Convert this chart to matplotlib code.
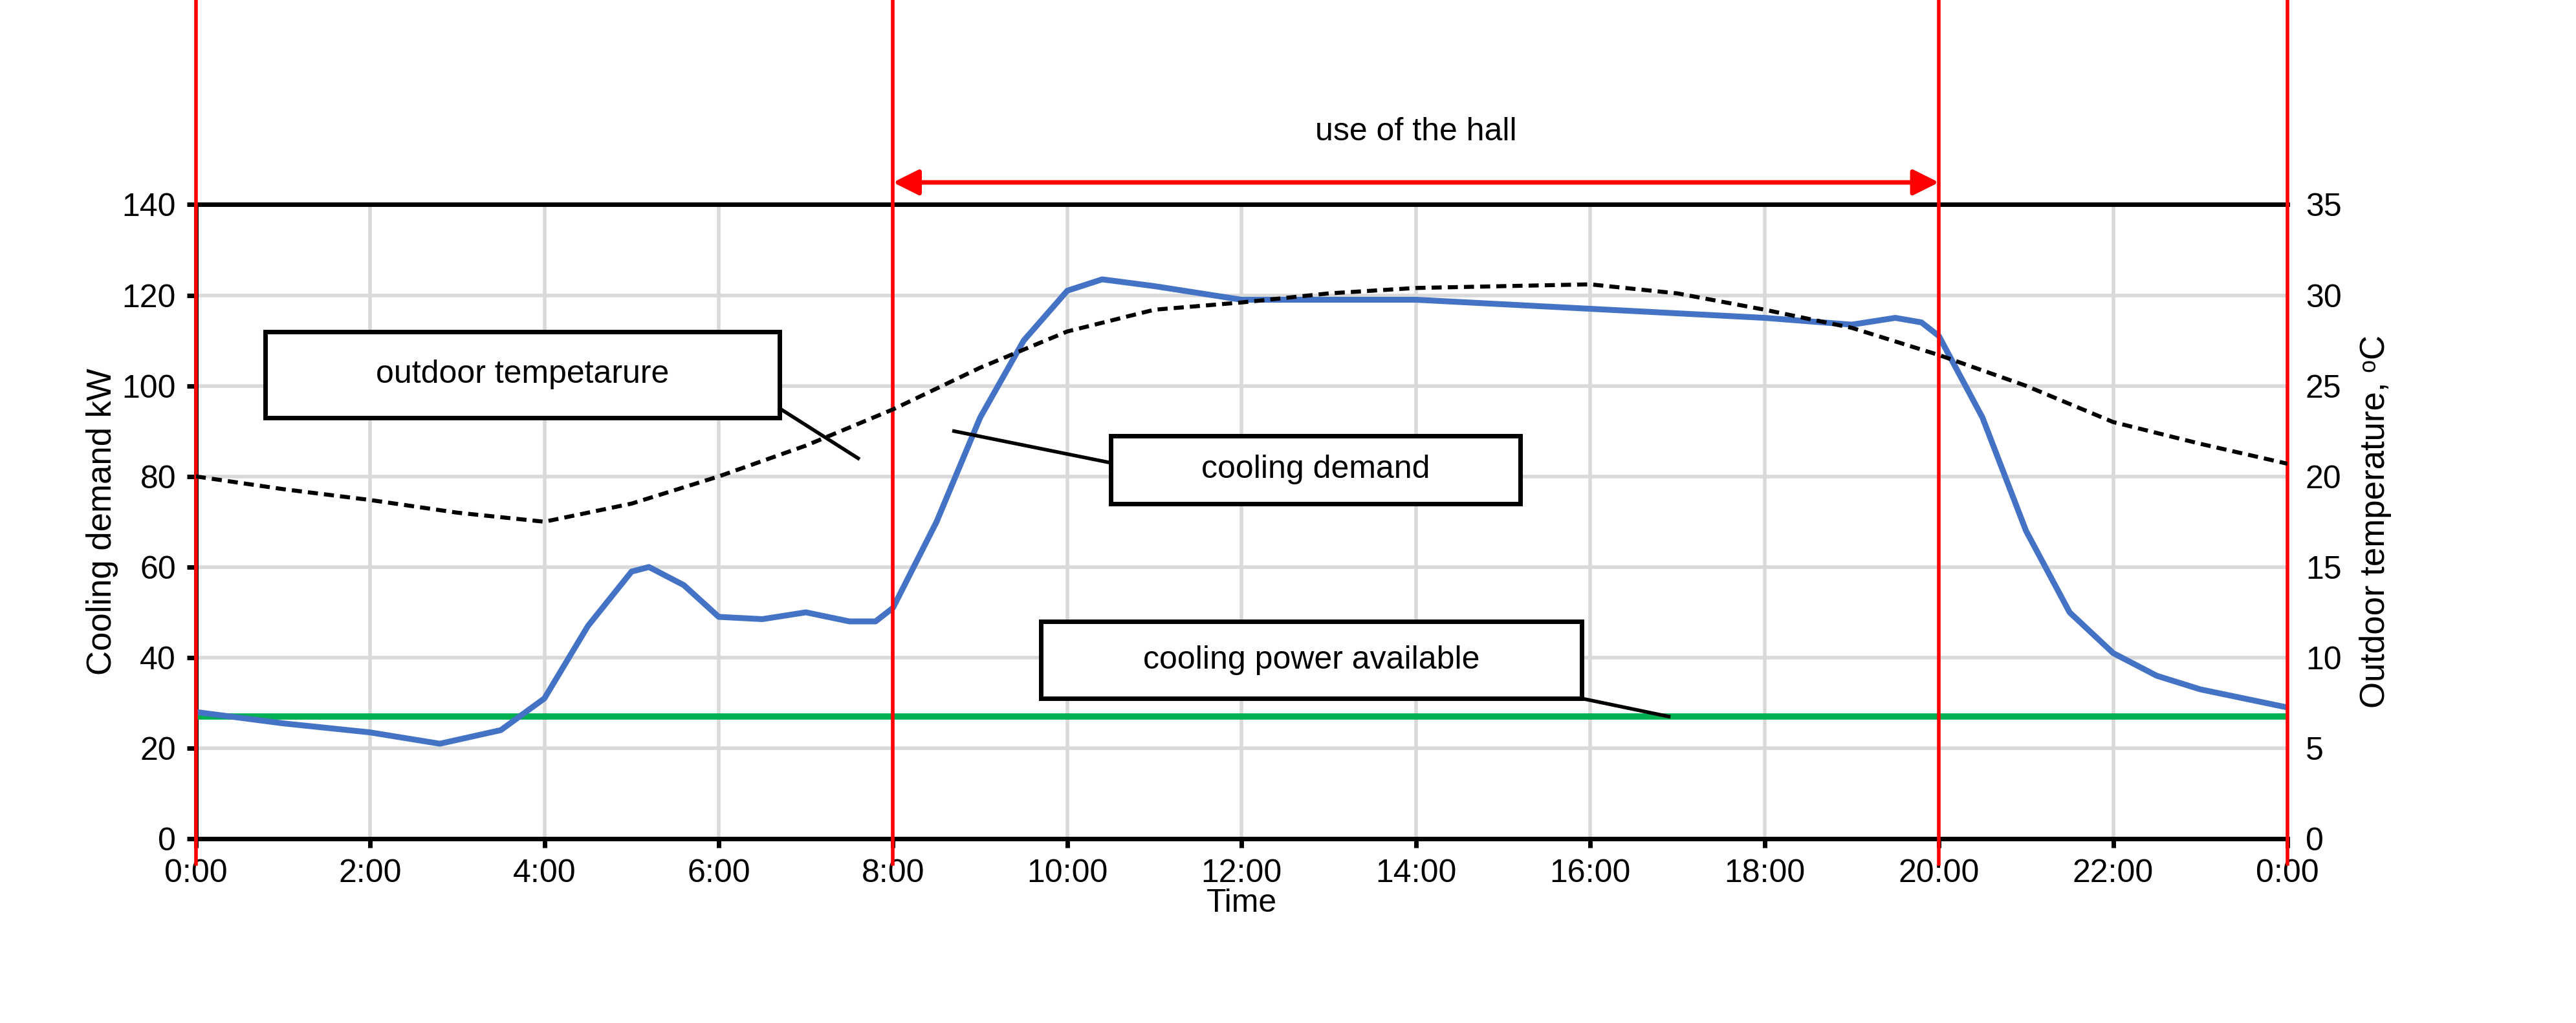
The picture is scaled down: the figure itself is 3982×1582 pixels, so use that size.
import matplotlib
matplotlib.use("Agg")
import matplotlib.pyplot as plt
from matplotlib.patches import Rectangle

hours_d = [0,1,2,2.8,3.5,4,4.5,5,5.2,5.6,6,6.5,7,7.5,7.8,8,8.5,9,9.5,10,10.4,11,11.5,12,13,14,15,16,17,18,19,19.5,19.8,20,20.5,21,21.5,22,22.5,23,24]
demand = [28,25.5,23.5,21,24,31,47,59,60,56,49,48.5,50,48,48,51,70,93,110,121,123.5,122,120.5,119,119,119,118,117,116,115,113.5,115,114,111,93,68,50,41,36,33,29]
hours_t = [0,1,2,3,4,5,6,7,8,9,10,11,12,13,14,15,16,17,18,19,20,21,22,23,24]
temp = [20,19.3,18.7,18,17.5,18.5,20,21.7,23.7,26,28,29.2,29.6,30.1,30.4,30.5,30.6,30.1,29.2,28.2,26.7,25,23,21.8,20.7]
power = 27
xticks = list(range(0, 25, 2))
xticklabels = [f"{h % 24}:00" for h in xticks]
red_lines = [0, 8, 20, 24]

fam = ['Liberation Sans Narrow', 'Liberation Sans', 'DejaVu Sans']
plt.rcParams['font.family'] = fam
fig = plt.figure(figsize=(39.82, 15.82), dpi=100)
ax = fig.add_axes([0.076, 0.18, 0.812, 0.62])
ax.set_xlim(0, 24); ax.set_ylim(0, 140)
ax.set_xticks(xticks); ax.set_xticklabels(xticklabels)
ax.set_yticks(range(0, 141, 20))
ax.grid(True, color='#D9D9D9', lw=4)
ax.set_axisbelow(True)
ax.tick_params(labelsize=36, width=5, length=10, pad=12)
for s in ['top', 'left', 'bottom']:
    ax.spines[s].set_linewidth(5)
ax.spines['right'].set_visible(False)
ax.set_xlabel('Time', fontsize=36, family=['Liberation Sans', 'DejaVu Sans'], labelpad=0)
ax.set_ylabel('Cooling demand kW', fontsize=38, family=['Liberation Sans', 'DejaVu Sans'])

ax2 = ax.twinx()
ax2.set_ylim(0, 35)
ax2.set_yticks(range(0, 36, 5))
ax2.tick_params(labelsize=36, length=0, pad=20)
for s in ax2.spines.values():
    s.set_visible(False)
ax2.set_ylabel('Outdoor temperature, \u1d52C', fontsize=38, family=['Liberation Sans', 'DejaVu Sans'], labelpad=20)

ax.axhline(power, color='#00B050', lw=7, zorder=3)
ax2.plot(hours_t, temp, color='black', lw=4.5, ls=(0, (2.5, 1.5)), zorder=3)
ax.plot(hours_d, demand, color='#4472C4', lw=6.5, zorder=4, solid_joinstyle='round', solid_capstyle='round')

# red vertical lines, extending above the axes
for x in red_lines:
    top = 1.55 if x in (0, 24) else 1.40
    ax.plot([x, x], [-0.04, top], transform=ax.get_xaxis_transform(), color='red', lw=4, clip_on=False, zorder=6)

ax.annotate('', xy=(0, 1.38), xytext=(24, 1.38), xycoords=('data', 'axes fraction'),
            arrowprops=dict(arrowstyle='<|-|>', color='red', lw=5, mutation_scale=60, shrinkA=0, shrinkB=0))
ax.annotate('', xy=(8, 1.035), xytext=(20, 1.035), xycoords=('data', 'axes fraction'),
            arrowprops=dict(arrowstyle='<|-|>', color='red', lw=5, mutation_scale=60, shrinkA=0, shrinkB=0))
ax.text(12, 1.51, 'cooling system working time', transform=ax.get_xaxis_transform(), ha='center', va='center', fontsize=36, family=['Liberation Sans', 'DejaVu Sans'])
ax.text(14, 1.115, 'use of the hall', transform=ax.get_xaxis_transform(), ha='center', va='center', fontsize=36, family=['Liberation Sans', 'DejaVu Sans'])

def callout(x0, x1, y0, y1, text, line):
    ax.add_patch(Rectangle((x0, y0), x1 - x0, y1 - y0, fc='white', ec='black', lw=5, zorder=7, clip_on=False))
    ax.text((x0 + x1) / 2, (y0 + y1) / 2, text, ha='center', va='center', fontsize=36, zorder=8)
    ax.plot(line[0], line[1], color='black', lw=4, zorder=7, clip_on=False)

callout(0.8, 6.7, 93, 112, 'outdoor tempetarure', ([6.7, 7.6], [95, 84]))
callout(10.5, 15.2, 74, 89, 'cooling demand', ([10.5, 8.7], [83, 90]))
callout(9.7, 15.9, 31, 48, 'cooling power available', ([15.9, 16.9], [31, 27]))

fig.savefig('out.png', dpi=100)
